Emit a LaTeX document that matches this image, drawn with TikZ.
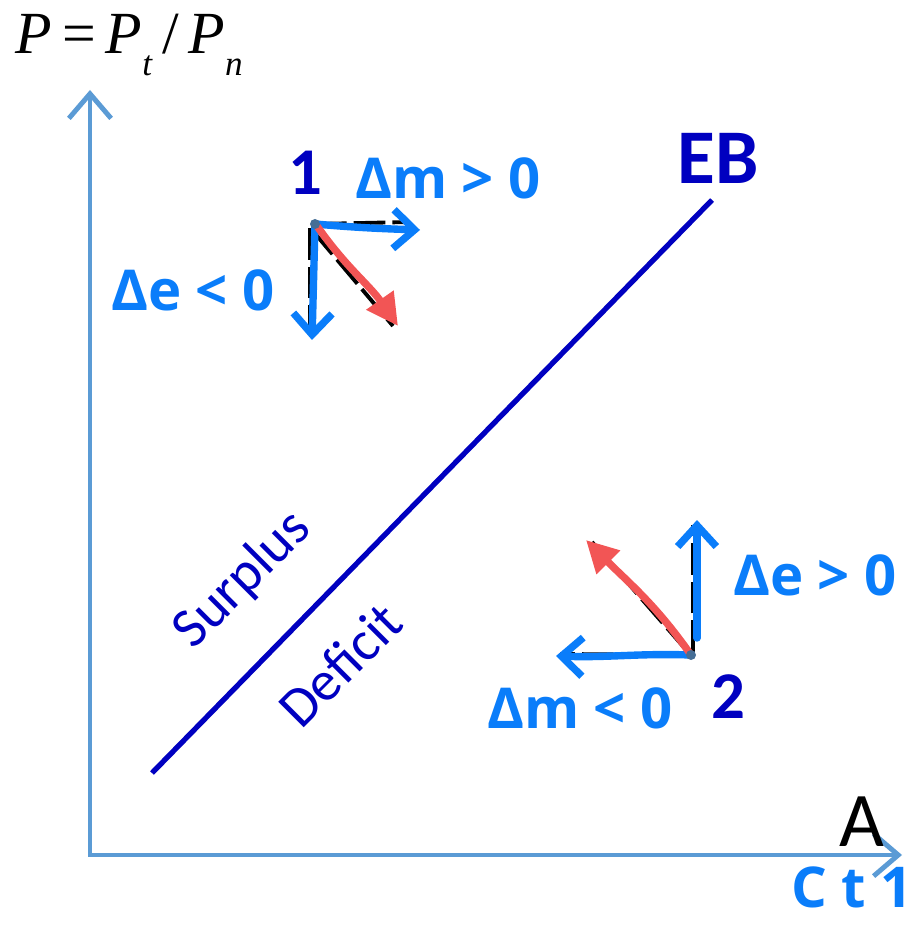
\documentclass[tikz,border=0pt]{standalone}
\usepackage{fontspec}
\setmainfont{Carlito}
\newfontfamily\handfont{Open Sans}
\newfontfamily\titlefont{Liberation Serif}
\usetikzlibrary{arrows.meta}
\definecolor{axisblue}{RGB}{91,155,213}
\definecolor{penblue}{RGB}{10,125,250}
\definecolor{penred}{RGB}{242,85,85}
\definecolor{ebblue}{RGB}{0,0,192}
\definecolor{dotgray}{RGB}{70,110,150}
\newcommand{\lowsub}[1]{\raisebox{-6pt}{\fontsize{10}{10}\selectfont #1}}

\begin{document}
\begin{tikzpicture}[x=0.01cm,y=-0.01cm,
  axis/.style={draw=axisblue,line width=1.4pt,-{Straight Barb[length=7pt,width=12pt,line width=1.4pt]}},
  pen/.style={draw=penblue,line width=2.1pt,line cap=round,-{Straight Barb[length=6pt,width=11pt,line width=2.1pt]}},
  redpen/.style={draw=penred,line width=2.1pt,line cap=round,-{Triangle[length=9pt,width=9pt]}},
  shadow/.style={draw=black,line width=1.1pt,dashed,dash pattern=on 9pt off 2pt},
  hand/.style={text=penblue,font=\handfont\bfseries\fontsize{16}{16}\selectfont},
  num/.style={text=ebblue,font=\bfseries\fontsize{19}{19}\selectfont},
  region/.style={text=ebblue,rotate=45,font=\fontsize{16}{16}\selectfont}]
\useasboundingbox (0,0) rectangle (914,925);
% axes
\coordinate (o) at (90,855);
\coordinate (ytop) at (90,90);
\coordinate (xend) at (902,855);
\draw[axis] (o) -- (ytop);
\draw[axis] (88,855) -- (xend);
\node[anchor=base west,inner sep=0pt,font=\titlefont\fontsize{17}{17}\selectfont] (ylab) at (15,54)
  {\itshape P\upshape\,=\,\itshape P\lowsub{t}\upshape\,/\,\itshape P\lowsub{n}};
\node[font=\fontsize{22}{22}\selectfont] (xlab) at (862,822) {A};
\node[hand] (xlab2) at (852,887) {C t 1};
% external balance line
\coordinate (eb0) at (152,773);
\coordinate (eb1) at (712,200);
\draw[ebblue,line width=1.5pt] (eb0) -- (eb1);
\node[text=ebblue,font=\bfseries\fontsize{22}{22}\selectfont] (eb) at (718,158) {EB};
\node[region] (surplus) at (243,580) {Surplus};
\node[region] (deficit) at (340,665) {Deficit};
% point 1
\coordinate (p1) at (315,224);
\coordinate (p1r) at (420,230);
\coordinate (p1d) at (312,340);
\coordinate (p1m) at (398,326);
\draw[shadow] (p1) -- (410,222);
\draw[shadow] (310,228) -- (310,330);
\draw[shadow] (312,230) -- (393,326);
\draw[pen] (p1) to[out=-5,in=178] (p1r);
\draw[pen] (p1) -- (p1d);
\draw[redpen] (317,226) to[out=-55,in=125] (p1m);
\fill[dotgray] (p1) circle (5);
\node[num] (n1) at (305,173) {1};
\node[hand] (dm1) at (448,178) {Δm > 0};
\node[hand] (de1) at (193,290) {Δe < 0};
% point 2
\coordinate (p2) at (691,655);
\coordinate (p2u) at (697,520);
\coordinate (p2l) at (556,656);
\coordinate (p2m) at (586,540);
\draw[shadow] (693,652) -- (693,525);
\draw[shadow] (p2) -- (560,654);
\draw[shadow] (688,652) -- (592,542);
\draw[pen] (697,638) -- (p2u);
\draw[pen] (p2) to[out=178,in=-2] (p2l);
\draw[redpen] (p2) to[out=125,in=-45] (p2m);
\fill[dotgray] (p2) circle (5);
\node[num] (n2) at (728,697) {2};
\node[hand] (de2) at (815,575) {Δe > 0};
\node[hand] (dm2) at (580,708) {Δm < 0};
\end{tikzpicture}
\end{document}
